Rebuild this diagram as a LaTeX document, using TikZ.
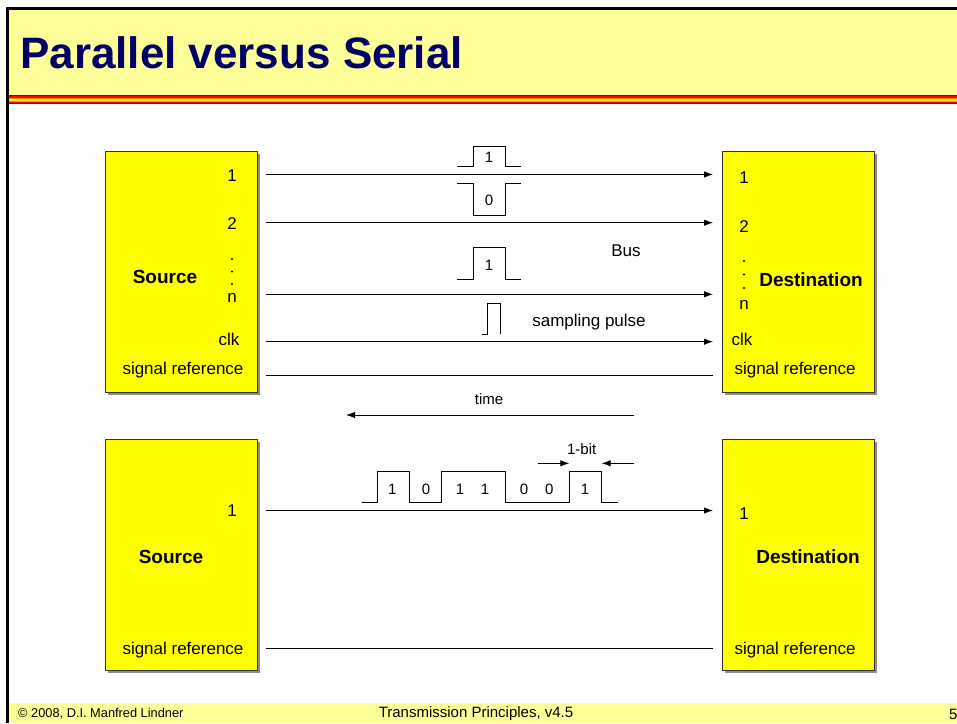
\documentclass[tikz,border=0pt]{standalone}
\usepackage{fontspec}
\setmainfont{Liberation Sans}
\usetikzlibrary{arrows.meta}

\definecolor{bandyellow}{RGB}{255,255,153}
\definecolor{boxyellow}{RGB}{255,255,0}
\definecolor{titleblue}{RGB}{0,0,102}

\tikzset{
  unitbox/.style={draw=black!80, fill=boxyellow, line width=0.8pt,
    minimum width=152pt, inner sep=0pt},
  lbl/.style={font=\fontsize{17}{17}\selectfont, inner sep=0pt},
  unitlbl/.style={font=\bfseries\fontsize{19}{19}\selectfont, inner sep=0pt},
  small/.style={font=\fontsize{15}{15}\selectfont, inner sep=0pt},
  wire/.style={line width=0.9pt},
  pulse/.style={line width=0.8pt}
}

\begin{document}
\begin{tikzpicture}[x=1pt, y=-1pt, >={Latex[length=9pt,width=6.5pt]}]
    \useasboundingbox (0,0) rectangle (957,723);

    % Define parameters of the lines
    \def\xa{266}
    \def\xb{713}

    % Draw slide frame, title band and footer band
    \fill[bandyellow] (9,9) rectangle (957,95);
    \fill[bandyellow] (9,703) rectangle (957,723);
    \draw[line width=3pt] (7,723) -- (7,8) -- (957,8);
    \foreach \c [count=\i] in {black!50!red, red, orange, yellow!80!orange, yellow, orange, red, black!50!red}
        \draw[\c, line width=1.2pt] (9,94.8+\i*1.1) -- (957,94.8+\i*1.1);
    \node[anchor=base west, inner sep=0pt, text=titleblue,
          font=\bfseries\fontsize{44}{44}\selectfont] (title) at (20,68) {Parallel versus Serial};
    \node[anchor=west, inner sep=0pt, font=\fontsize{12.8}{13}\selectfont] (copy) at (18,714) {\textcopyright{} 2008, D.I. Manfred Lindner};
    \node[inner sep=0pt, font=\fontsize{15}{16}\selectfont] (course) at (476,714) {Transmission Principles, v4.5};
    \node[anchor=west, inner sep=0pt, font=\fontsize{15}{15}\selectfont] (page) at (949,714) {5};

    % Draw parallel source and destination
    \fill[black!45] (107.5,153.5) rectangle (259.5,394.5);
    \fill[black!45] (724.5,153.5) rectangle (876.5,394.5);
    \node[unitbox, minimum height=241pt] (psrc) at (181,271.5) {};
    \node[unitbox, minimum height=241pt] (pdst) at (798,271.5) {};
    \node[unitlbl] (psrcname) at (165,277) {Source};
    \node[unitlbl] (pdstname) at (811,280) {Destination};

    % Draw labels of the lines
    \node[lbl] (ps1) at (232,176) {1};
    \node[lbl] (ps2) at (232,224) {2};
    \foreach \i in {0,1,2} {
        \fill (232,259+12.5*\i) circle (1.2pt);
        \fill (744,261+13.5*\i) circle (1.2pt);
    }
    \node[lbl] (psn) at (232,298) {n};
    \node[lbl] (psclk) at (229,339) {clk};
    \node[lbl] (psref) at (183,370) {signal reference};
    \node[lbl] (pd1) at (744,178) {1};
    \node[lbl] (pd2) at (744,227) {2};
    \node[lbl] (pdn) at (744,305) {n};
    \node[lbl] (pdclk) at (742,339) {clk};
    \node[lbl] (pdref) at (795,370) {signal reference};

    % Draw the parallel lines
    \foreach \name/\y in {1/174.5, 2/222.7, n/294.3, clk/341.7, ref/375.3} {
        \coordinate (pa\name) at (\xa,\y);
        \coordinate (pb\name) at (\xb,\y);
    }
    \foreach \name in {1, 2, n, clk}
        \draw[wire,->] (pa\name) -- (pb\name);
    \draw[wire] (paref) -- (pbref);

    % Draw pulses on the lines
    \draw[pulse] (457,166.7) -- (473.3,166.7) -- (473.3,146) -- (505.3,146) -- (505.3,166.7) -- (521,166.7);
    \node[small] (bit1) at (489,157) {1};
    \draw[pulse] (457,183) -- (473.3,183) -- (473.3,215) -- (505.3,215) -- (505.3,183) -- (521,183);
    \node[small] (bit2) at (489,200) {0};
    \draw[pulse] (457,279.3) -- (473.3,279.3) -- (473.3,247) -- (505.3,247) -- (505.3,279.3) -- (521,279.3);
    \node[small] (bitn) at (489,265) {1};
    \draw[pulse] (481.7,334.3) -- (487.3,334.3) -- (487.3,303) -- (500,303) -- (500,334.3);
    \node[lbl] (samp) at (589,322) {sampling pulse};
    \node[lbl] (bus) at (626,251) {Bus};

    % Draw time axis
    \coordinate (tstart) at (634,415);
    \coordinate (tend) at (346,415);
    \draw[wire,->] (tstart) -- (tend);
    \node[small] (time) at (489,399) {time};

    % Draw serial source and destination
    \fill[black!45] (107.5,441.5) rectangle (259.5,672.5);
    \fill[black!45] (724.5,441.5) rectangle (876.5,672.5);
    \node[unitbox, minimum height=231pt] (ssrc) at (181,554.5) {};
    \node[unitbox, minimum height=231pt] (sdst) at (798,554.5) {};
    \node[unitlbl] (ssrcname) at (171,557) {Source};
    \node[unitlbl] (sdstname) at (808,557) {Destination};
    \node[lbl] (ss1) at (232,511) {1};
    \node[lbl] (ssref) at (183,650) {signal reference};
    \node[lbl] (sd1) at (744,514) {1};
    \node[lbl] (sdref) at (795,650) {signal reference};

    % Draw the serial lines
    \coordinate (sa1) at (\xa,510.5);
    \coordinate (sb1) at (\xb,510.5);
    \coordinate (saref) at (\xa,648);
    \coordinate (sbref) at (\xb,648);
    \draw[wire,->] (sa1) -- (sb1);
    \draw[wire] (saref) -- (sbref);

    % Draw bit sequence 1011001
    \draw[pulse] (361.7,502) -- (377.3,502) -- (377.3,471.3) -- (409.7,471.3) -- (409.7,502)
                 -- (441.3,502) -- (441.3,471.3) -- (505.3,471.3) -- (505.3,502)
                 -- (569.3,502) -- (569.3,471.3) -- (601.3,471.3) -- (601.3,502) -- (617.7,502);
    \foreach \b/\x in {1/392.3, 0/426, 1/460, 1/485, 0/524, 0/549.3, 1/585}
        \node[small] at (\x,489.3) {\b};

    % Draw width of one bit
    \node[small] (onebit) at (581.7,449) {1-bit};
    \coordinate (bl) at (537.7,463.3);
    \coordinate (br) at (634,463.3);
    \draw[wire,->] (bl) -- (569.3,463.3);
    \draw[wire,->] (br) -- (601.7,463.3);

\end{tikzpicture}
\end{document}
